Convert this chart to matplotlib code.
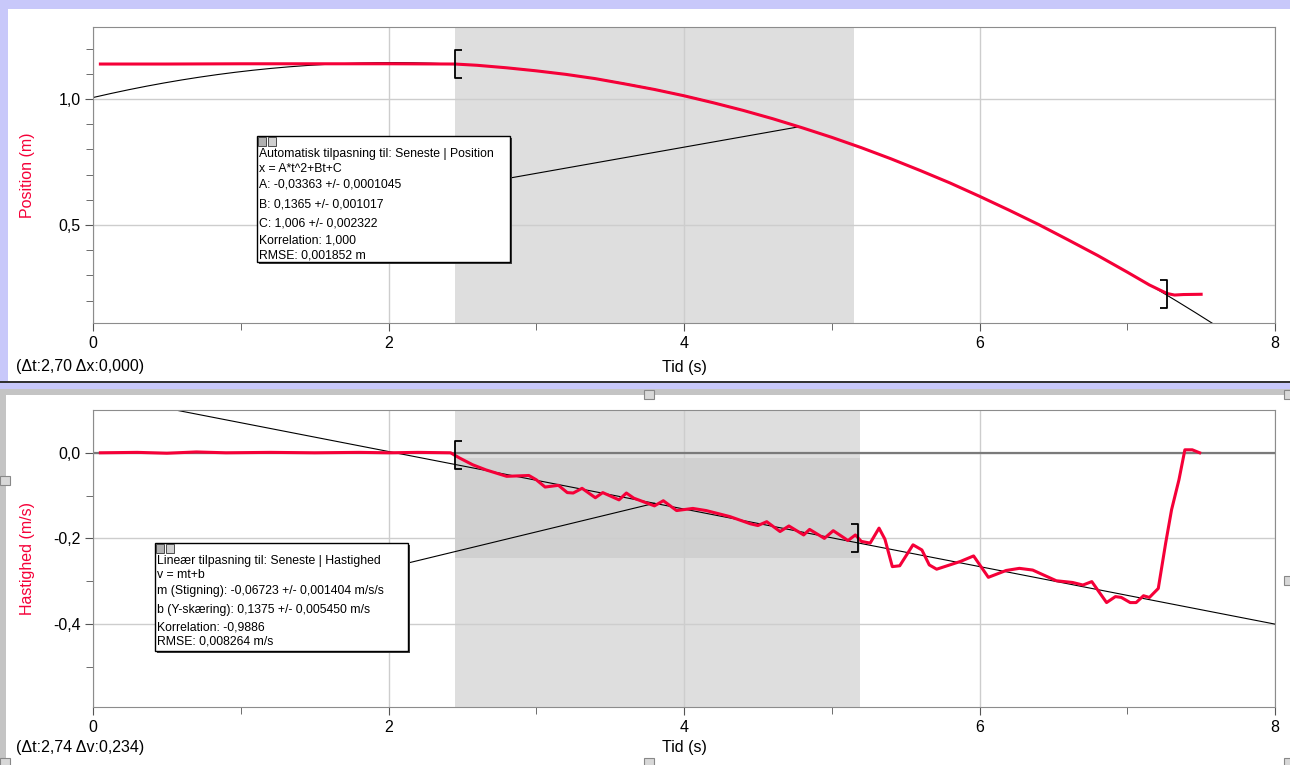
import numpy as np
import matplotlib
matplotlib.use("Agg")
import matplotlib.pyplot as plt
from matplotlib.path import Path
from matplotlib.patches import Rectangle

plt.rcParams['font.family'] = ['Liberation Sans', 'DejaVu Sans']

# Position data
t_pos = [0.05, 0.5, 1.0, 1.5, 2.0, 2.45, 2.6, 2.8, 3.0, 3.2, 3.4, 3.6, 3.8, 4.0,
         4.2, 4.4, 4.6, 4.8, 5.0, 5.2, 5.4, 5.6, 5.8, 6.0, 6.2, 6.4, 6.6, 6.8,
         7.0, 7.15, 7.27, 7.32, 7.38, 7.5]
x_pos = [1.139, 1.139, 1.140, 1.140, 1.140, 1.139, 1.134, 1.124, 1.112, 1.098,
         1.081, 1.060, 1.038, 1.013, 0.985, 0.955, 0.922, 0.886, 0.848, 0.807,
         0.763, 0.716, 0.667, 0.614, 0.559, 0.502, 0.441, 0.379, 0.313, 0.262,
         0.228, 0.222, 0.224, 0.225]

# Velocity data
t_vel = [0.05, 0.3, 0.5, 0.7, 0.9, 1.2, 1.5, 1.8, 2.0, 2.2, 2.42,
         2.48, 2.57, 2.66, 2.80, 2.95, 3.00, 3.06, 3.15, 3.21, 3.25, 3.31, 3.40,
         3.45, 3.56, 3.61, 3.66, 3.80, 3.86, 3.95, 4.06, 4.15, 4.31, 4.45, 4.50,
         4.56, 4.65, 4.71, 4.81, 4.85, 4.95, 5.01, 5.11, 5.16, 5.20, 5.26, 5.32,
         5.36, 5.41, 5.46, 5.55, 5.61, 5.66, 5.71, 5.87, 5.96, 6.06, 6.18, 6.27,
         6.36, 6.43, 6.52, 6.63, 6.70, 6.76, 6.86, 6.92, 6.96, 7.02, 7.06, 7.11,
         7.15, 7.21, 7.26, 7.30, 7.35, 7.39, 7.44, 7.49]
v_vel = [0.0, 0.001, -0.001, 0.002, 0.0, 0.001, 0.0, 0.001, 0.0, 0.001, 0.0,
         -0.012, -0.028, -0.040, -0.055, -0.053, -0.063, -0.080, -0.076, -0.093,
         -0.094, -0.083, -0.105, -0.093, -0.110, -0.094, -0.106, -0.124, -0.112,
         -0.135, -0.130, -0.135, -0.149, -0.166, -0.170, -0.161, -0.184, -0.171,
         -0.192, -0.179, -0.200, -0.182, -0.205, -0.192, -0.207, -0.211, -0.176,
         -0.202, -0.266, -0.264, -0.215, -0.227, -0.262, -0.272, -0.254, -0.241,
         -0.291, -0.275, -0.270, -0.274, -0.285, -0.299, -0.303, -0.309, -0.301,
         -0.350, -0.336, -0.338, -0.350, -0.350, -0.334, -0.338, -0.317, -0.211,
         -0.133, -0.063, 0.007, 0.007, 0.0]

# Fit parameters (from the annotation boxes)
A, B, C = -0.03363, 0.1365, 1.006
m, b = -0.06723, 0.1375

sel_pos = (2.45, 5.15)
sel_vel = (2.45, 5.19)
sel_vel_v = (-0.0125, -0.2465)
brk_pos = (2.45, 7.27)
brk_vel = (2.45, 5.18)

x_ticks = [0, 2, 4, 6, 8]
pos_ticks = [0.5, 1.0]
pos_labels = ['0,5', '1,0']
vel_ticks = [-0.4, -0.2, 0.0]
vel_labels = ['-0,4', '-0,2', '0,0']

RED = '#f50038'
GRID = '#cdcdcd'
SHADE = '#dedede'

fig = plt.figure(figsize=(12.9, 7.65), dpi=100)

# window frame decorations
def frect(x, y, w, h, **kw):
    fig.patches.append(Rectangle((x / 1290, 1 - (y + h) / 765), w / 1290, h / 765,
                                 transform=fig.transFigure, **kw))

frect(0, 0, 1290, 9, color='#c8c8fa', lw=0)
frect(0, 0, 8, 385, color='#c8c8fa', lw=0)
frect(0, 386, 6, 379, color='#c4c4c4', lw=0)
frect(0, 381, 1290, 1.5, color='#333333', lw=0)
frect(0, 382.5, 1290, 6, color='#c8c8fa', lw=0)
frect(0, 388.5, 1290, 6, color='#c4c4c4', lw=0)
for hx, hy in [(644, 390), (1284, 390), (1284, 576), (0, 476), (644, 758), (0, 758), (1284, 758)]:
    frect(hx, hy, 10, 9, facecolor='#d8d8d8', edgecolor='#888888', lw=0.8)

bracket_l = Path([(0.5, 1), (0, 1), (0, -1), (0.5, -1)])
bracket_r = Path([(-0.5, 1), (0, 1), (0, -1), (-0.5, -1)])


def style_axes(ax, yt, ylab):
    for s in ax.spines.values():
        s.set_color('#8c8c8c')
    ax.set_xlim(0, 8)
    ax.set_xticks(x_ticks)
    ax.set_xticklabels([str(v) for v in x_ticks])
    ax.set_xticks([1, 3, 5, 7], minor=True)
    ax.set_yticks(yt)
    ax.set_yticklabels(ylab)
    ax.tick_params(which='both', color='#555555', labelsize=11.5, pad=3)
    ax.tick_params(which='major', length=6)
    ax.tick_params(which='minor', length=5)
    ax.grid(True, which='major', color=GRID, lw=1)
    ax.set_axisbelow(True)


# ---------------- Position ----------------
ax1 = fig.add_axes([93 / 1290, 1 - 323 / 765, 1182 / 1290, 296 / 765])
ax1.set_ylim(0.111, 1.286)
style_axes(ax1, pos_ticks, pos_labels)
ax1.set_yticks(np.arange(0.2, 1.25, 0.1), minor=True)
ax1.axvspan(*sel_pos, color=SHADE, lw=0, zorder=0)
tt = np.linspace(0, 8, 400)
ax1.plot(tt, A * tt**2 + B * tt + C, color='black', lw=0.8, zorder=2)
ax1.plot(t_pos, x_pos, color=RED, lw=2.2, zorder=3)
for tb, mk in zip(brk_pos, (bracket_l, bracket_r)):
    ax1.plot(tb, np.interp(tb, t_pos, x_pos), marker=mk, ms=20, mfc='none',
             mec='black', mew=1.3, zorder=4)
ax1.set_ylabel('Position (m)', color=RED, fontsize=11.5)
ax1.yaxis.set_label_coords(-0.0487, 0.5)
ax1.text(0.5, -0.15, 'Tid (s)', transform=ax1.transAxes, ha='center', va='center', fontsize=11.5)
ax1.text(-0.065, -0.148, '(\u0394t:2,70 \u0394x:0,000)', transform=ax1.transAxes,
         ha='left', va='center', fontsize=11.5)

# annotation box (position)
bx0, by0, bw, bh = 0.1387, 0.206, 0.2141, 0.4255
ax1.add_patch(Rectangle((bx0 + 0.002, by0 - 0.008), bw, bh, transform=ax1.transAxes,
                        facecolor='#404040', edgecolor='none', zorder=5))
ax1.add_patch(Rectangle((bx0, by0), bw, bh, transform=ax1.transAxes,
                        facecolor='white', edgecolor='black', lw=1, zorder=6))
ax1.add_patch(Rectangle((bx0 + 0.001, by0 + bh - 0.034), 0.0068, 0.03, transform=ax1.transAxes,
                        facecolor='#b0b0b0', edgecolor='#333333', lw=0.6, zorder=7))
ax1.add_patch(Rectangle((bx0 + 0.009, by0 + bh - 0.034), 0.0068, 0.03, transform=ax1.transAxes,
                        facecolor='#d0d0d0', edgecolor='#333333', lw=0.6, zorder=7))
lines1 = ['Automatisk tilpasning til: Seneste | Position', 'x = A*t^2+Bt+C',
          'A: -0,03363 +/- 0,0001045', 'B: 0,1365 +/- 0,001017', 'C: 1,006 +/- 0,002322',
          'Korrelation: 1,000', 'RMSE: 0,001852 m']
ys1 = [154, 169, 184, 204, 223, 240, 255]
for s, py in zip(lines1, ys1):
    ax1.text(bx0 + 0.002, (323 - py) / 296, s, transform=ax1.transAxes, ha='left',
             va='center', fontsize=8.8, zorder=8)
t_c1 = 4.78
ax1.annotate('', xy=(t_c1, A * t_c1**2 + B * t_c1 + C), xycoords='data',
             xytext=(bx0 + bw, (323 - 178) / 296), textcoords='axes fraction',
             arrowprops=dict(arrowstyle='-', color='black', lw=0.8, shrinkA=0, shrinkB=0),
             zorder=2)

# ---------------- Velocity ----------------
ax2 = fig.add_axes([93 / 1290, 1 - 707 / 765, 1182 / 1290, 297 / 765])
ax2.set_ylim(-0.594, 0.1)
style_axes(ax2, vel_ticks, vel_labels)
ax2.set_yticks([-0.5, -0.3, -0.1], minor=True)
ax2.axvspan(*sel_vel, color=SHADE, lw=0, zorder=0)
ax2.add_patch(Rectangle((sel_vel[0], sel_vel_v[1]), sel_vel[1] - sel_vel[0],
                        sel_vel_v[0] - sel_vel_v[1], facecolor='#d0d0d0', lw=0, zorder=0.5))
ax2.axhline(0, color='#7a7a7a', lw=1.6, zorder=1)
ax2.plot(tt, m * tt + b, color='black', lw=0.8, zorder=2)
ax2.plot(t_vel, v_vel, color=RED, lw=2.2, zorder=3)
for tb, mk in zip(brk_vel, (bracket_l, bracket_r)):
    ax2.plot(tb, np.interp(tb, t_vel, v_vel), marker=mk, ms=20, mfc='none',
             mec='black', mew=1.3, zorder=4)
ax2.set_ylabel('Hastighed (m/s)', color=RED, fontsize=11.5)
ax2.yaxis.set_label_coords(-0.0487, 0.5)
ax2.text(0.5, -0.138, 'Tid (s)', transform=ax2.transAxes, ha='center', va='center', fontsize=11.5)
ax2.text(-0.065, -0.138, '(\u0394t:2,74 \u0394v:0,234)', transform=ax2.transAxes,
         ha='left', va='center', fontsize=11.5)

# annotation box (velocity)
cx0, cw = (155 - 93) / 1182, (408 - 155) / 1182
cy0, ch = (707 - 651) / 297, (651 - 543) / 297
ax2.add_patch(Rectangle((cx0 + 0.002, cy0 - 0.008), cw, ch, transform=ax2.transAxes,
                        facecolor='#404040', edgecolor='none', zorder=5))
ax2.add_patch(Rectangle((cx0, cy0), cw, ch, transform=ax2.transAxes,
                        facecolor='white', edgecolor='black', lw=1, zorder=6))
ax2.add_patch(Rectangle((cx0 + 0.001, cy0 + ch - 0.034), 0.0068, 0.03, transform=ax2.transAxes,
                        facecolor='#b0b0b0', edgecolor='#333333', lw=0.6, zorder=7))
ax2.add_patch(Rectangle((cx0 + 0.009, cy0 + ch - 0.034), 0.0068, 0.03, transform=ax2.transAxes,
                        facecolor='#d0d0d0', edgecolor='#333333', lw=0.6, zorder=7))
lines2 = ['Line\u00e6r tilpasning til: Seneste | Hastighed', 'v = mt+b',
          'm (Stigning): -0,06723 +/- 0,001404 m/s/s', 'b (Y-sk\u00e6ring): 0,1375 +/- 0,005450 m/s',
          'Korrelation: -0,9886', 'RMSE: 0,008264 m/s']
ys2 = [561, 575, 591, 610, 627, 642]
for s, py in zip(lines2, ys2):
    ax2.text(cx0 + 0.002, (707 - py) / 297, s, transform=ax2.transAxes, ha='left',
             va='center', fontsize=8.8, zorder=8)
t_c2 = 3.80
ax2.annotate('', xy=(t_c2, m * t_c2 + b), xycoords='data',
             xytext=(cx0 + cw, (707 - 563) / 297), textcoords='axes fraction',
             arrowprops=dict(arrowstyle='-', color='black', lw=0.8, shrinkA=0, shrinkB=0),
             zorder=2)

fig.savefig('out.png', dpi=100)
